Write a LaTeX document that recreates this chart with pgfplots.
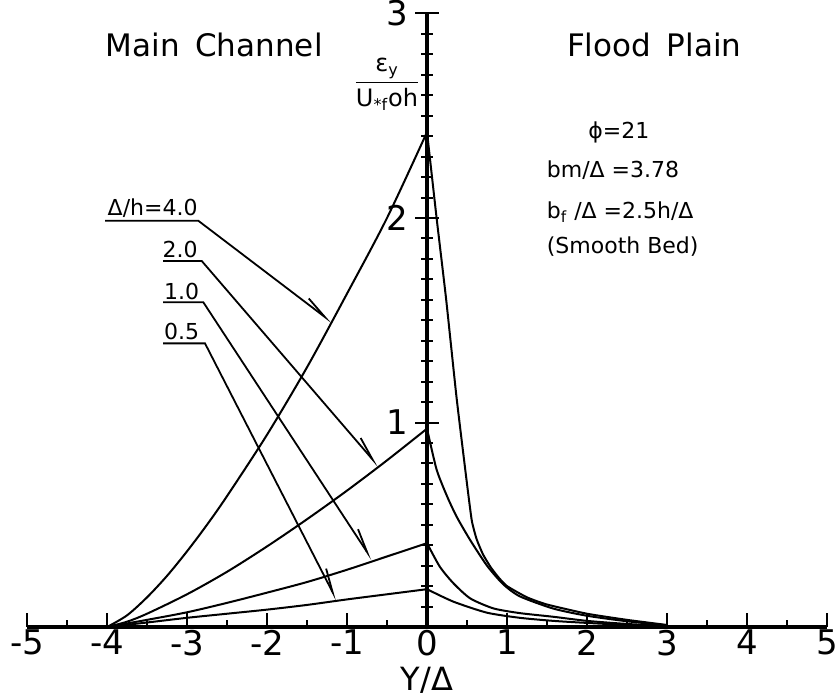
\documentclass[border=0pt]{standalone}
\usepackage{fontspec}
\setmainfont{DejaVu Sans}
\usepackage{pgfplots}
\pgfplotsset{compat=1.18}
\usetikzlibrary{arrows.meta}

\pgfplotstableread{
x y
-4 0
-3.75 0.057
-3.5 0.145
-3.25 0.25
-3 0.37
-2.75 0.50
-2.5 0.64
-2 0.94
-1.5 1.27
-1 1.63
-0.5 2.0
0 2.42
}\AL
\pgfplotstableread{
x y
0 2.42
0.12 2.0
0.24 1.6
0.37 1.12
0.5 0.70
0.56 0.52
0.62 0.43
0.7 0.355
0.8 0.29
0.9 0.24
1.0 0.20
1.25 0.145
1.5 0.11
2.0 0.065
2.5 0.035
3.0 0.01
}\AR
\pgfplotstableread{
x y
-4 0
-3.75 0.026
-3.5 0.065
-3 0.16
-2.5 0.27
-2 0.394
-1.5 0.527
-1 0.667
-0.5 0.815
0 0.97
}\BL
\pgfplotstableread{
x y
0 0.97
0.12 0.77
0.25 0.64
0.37 0.54
0.54 0.425
0.75 0.30
0.95 0.21
1.16 0.15
1.58 0.09
2.0 0.055
2.5 0.028
3.0 0.008
}\BR
\pgfplotstableread{
x y
-4 0
-3.5 0.035
-3 0.072
-2.5 0.118
-2 0.168
-1.5 0.22
-1 0.28
-0.5 0.345
0 0.41
}\CL
\pgfplotstableread{
x y
0 0.41
0.16 0.295
0.33 0.214
0.54 0.14
0.83 0.091
1.16 0.068
1.58 0.05
2.0 0.03
2.5 0.015
3.0 0.005
}\CR
\pgfplotstableread{
x y
-4 0
-3.5 0.022
-3 0.045
-2.5 0.065
-2 0.085
-1.5 0.108
-1 0.135
-0.5 0.16
0 0.185
}\DL
\pgfplotstableread{
x y
0 0.185
0.33 0.124
0.75 0.07
1.16 0.045
1.58 0.03
2.0 0.02
2.5 0.01
3.0 0.003
}\DR

\begin{document}
\begin{tikzpicture}
\begin{axis}[
  x=40pt, y=102.25pt,
  xmin=-5, xmax=5, ymin=0, ymax=3,
  axis x line=bottom, axis y line=none,
  axis line style={line width=1.6pt, -},
  xtick={-5,...,5},
  minor xtick={-4.5,-3.5,...,4.5},
  tick align=inside,
  major tick length=7pt, minor tick length=3.5pt,
  every tick/.style={line width=1pt, black},
  xticklabel style={font=\fontsize{17}{17}\selectfont, yshift=2pt},
  /pgf/number format/assume math mode=true,
  hide obscured x ticks=false,
  clip=false,
]
\addplot[black, line width=1pt, smooth] table {\AL};
\addplot[black, line width=1pt, smooth, tension=0.3] table {\AR};
\addplot[black, line width=1pt, smooth] table {\BL};
\addplot[black, line width=1pt, smooth, tension=0.4] table {\BR};
\addplot[black, line width=1pt, smooth] table {\CL};
\addplot[black, line width=1pt, smooth, tension=0.4] table {\CR};
\addplot[black, line width=1pt, smooth] table {\DL};
\addplot[black, line width=1pt, smooth, tension=0.4] table {\DR};

% leaders
\draw[line width=0.9pt, -{Straight Barb[harpoon, length=12pt, width=5pt]}]
  (axis cs:-4.025,1.987) -- (axis cs:-2.86,1.987) -- (axis cs:-1.19,1.49);
\draw[line width=0.9pt, -{Straight Barb[harpoon, length=12pt, width=5pt]}]
  (axis cs:-3.30,1.79) -- (axis cs:-2.816,1.79) -- (axis cs:-0.61,0.787);
\draw[line width=0.9pt, -{Straight Barb[harpoon, length=12pt, width=5pt]}]
  (axis cs:-3.30,1.588) -- (axis cs:-2.796,1.588) -- (axis cs:-0.69,0.331);
\draw[line width=0.9pt, -{Straight Barb[harpoon, length=12pt, width=5pt]}]
  (axis cs:-3.30,1.387) -- (axis cs:-2.775,1.387) -- (axis cs:-1.13,0.132);

\path[font=\fontsize{11}{12}\selectfont]
  (axis cs:-2.78,2.05) node[anchor=east] {Δ/h=4.0}
  (axis cs:-2.78,1.845) node[anchor=east] {2.0}
  (axis cs:-2.76,1.643) node[anchor=east] {1.0}
  (axis cs:-2.76,1.443) node[anchor=east] {0.5};

\path[font=\fontsize{15.5}{18}\selectfont]
  (axis cs:-2.66,2.846) node {Main\enspace Channel}
  (axis cs:2.84,2.846) node {Flood\enspace Plain};

\node[font=\fontsize{12}{13}\selectfont, inner sep=0pt] at (axis cs:-0.5,2.655)
  {\begin{tabular}{@{}c@{}}ε\textsubscript{y}\\[1pt]\hline\rule{0pt}{12pt}U\textsubscript{*f}oh\end{tabular}};

\path[font=\fontsize{11}{12}\selectfont]
  (axis cs:1.93,2.42) node[anchor=west] {ϕ=21}
  (axis cs:1.41,2.235) node[anchor=west] {bm/Δ =3.78}
  (axis cs:1.41,2.03) node[anchor=west] {b\textsubscript{f} /Δ =2.5h/Δ}
  (axis cs:1.41,1.86) node[anchor=west] {(Smooth Bed)};

\node[font=\fontsize{16}{16}\selectfont] at (axis cs:0,-0.262) {Y/Δ};

\coordinate (bl) at (axis cs:-5.3375,-0.342);
\coordinate (tr) at (axis cs:5.125,3.066);
\end{axis}
\begin{axis}[
  x=40pt, y=102.25pt,
  xmin=-5, xmax=5, ymin=0, ymax=3,
  axis x line=none, axis y line=center,
  axis line style={line width=1.6pt, -},
  ytick={0,1,2,3}, yticklabels={,1,2,3},
  minor y tick num=9,
  tick align=center,
  major tick length=12pt, minor tick length=6pt,
  every tick/.style={line width=1pt, black},
  yticklabel style={font=\fontsize{17}{17}\selectfont, anchor=east},
  /pgf/number format/assume math mode=true,
  clip=false,
]
\addplot[draw=none] coordinates {(0,0)};
\end{axis}
\pgfresetboundingbox
\path (bl) rectangle (tr);
\end{tikzpicture}
\end{document}
